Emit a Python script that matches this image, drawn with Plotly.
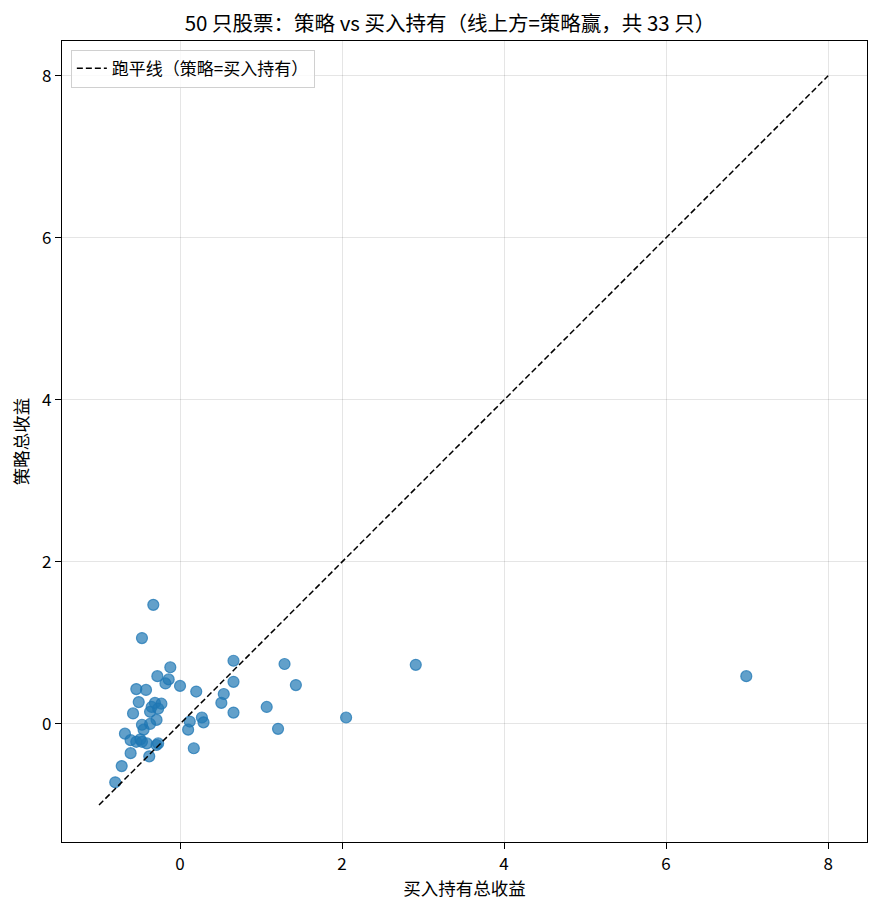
import plotly.graph_objects as go

# buy & hold total return (x) vs strategy total return (y), 50 stocks
bh_return = [-0.33, -0.47, -0.12, -0.28, -0.14, -0.18, 0.00, -0.54, -0.42, 0.20,
             -0.51, -0.31, -0.23, -0.35, -0.37, -0.27, -0.58, -0.29, -0.47, -0.37,
             -0.45, -0.68, 0.12, 0.27, 0.29, 0.10, -0.61, -0.54, -0.49, -0.41,
             -0.29, -0.27, -0.61, -0.38, 0.17, -0.72, -0.80, 0.66, 1.29, 1.43,
             0.66, 0.54, 0.51, 1.07, 0.66, 1.21, 2.05, 2.91, 6.99, -0.47]
strat_return = [1.47, 1.06, 0.70, 0.59, 0.55, 0.50, 0.47, 0.43, 0.42, 0.40,
                0.27, 0.26, 0.25, 0.21, 0.15, 0.19, 0.13, 0.05, -0.01, 0.00,
                -0.07, -0.12, 0.03, 0.08, 0.02, -0.07, -0.20, -0.22, -0.19, -0.24,
                -0.26, -0.24, -0.36, -0.40, -0.30, -0.52, -0.72, 0.78, 0.74, 0.48,
                0.52, 0.37, 0.26, 0.21, 0.14, -0.06, 0.08, 0.73, 0.59, -0.22]
breakeven = [-1, 8]

n_win = sum(1 for a, b in zip(bh_return, strat_return) if b > a)

font = "Noto Sans CJK SC"

fig = go.Figure()
fig.add_trace(go.Scatter(
    x=bh_return, y=strat_return, mode="markers", showlegend=False,
    marker=dict(size=11, color="rgba(31,119,180,0.7)",
                line=dict(width=1.2, color="rgba(31,119,180,0.75)"))))
fig.add_trace(go.Scatter(
    x=breakeven, y=breakeven, mode="lines", name="跑平线（策略=买入持有）",
    line=dict(color="black", width=1.5, dash="6px,3px")))

axis = dict(showline=True, linecolor="black", linewidth=1.3, mirror=True,
            ticks="outside", ticklen=6, tickwidth=1.3, tickcolor="black",
            tickvals=[0, 2, 4, 6, 8], showgrid=True, automargin=False,
            gridcolor="rgba(0,0,0,0.1)", zeroline=False,
            tickfont=dict(size=17, color="black"))

# the page adds an 8px body margin, so the figure is a bit smaller than the window
fig.update_layout(
    width=864, height=895,
    font=dict(family=font, color="black"),
    paper_bgcolor="white", plot_bgcolor="white",
    margin=dict(l=54, r=5, t=33, b=61),
    title=dict(text=f"50 只股票：策略 vs 买入持有（线上方=策略赢，共 {n_win} 只）",
               x=(450 - 8) / 864, xanchor="center", y=1 - 15.5 / 895, yanchor="middle",
               font=dict(size=20.5)),
    xaxis=dict(axis, range=[-1.457, 8.48],
               title=dict(text="买入持有总收益", font=dict(size=17.5), standoff=8)),
    yaxis=dict(axis, range=[-1.457, 8.43],
               title=dict(text="策略总收益", font=dict(size=17.5), standoff=10)),
    legend=dict(x=0.011, y=0.989, xanchor="left", yanchor="top",
                bgcolor="rgba(255,255,255,0.8)", bordercolor="#d0d0d0",
                borderwidth=1, font=dict(size=17)),
)

fig.write_html("out.html")
